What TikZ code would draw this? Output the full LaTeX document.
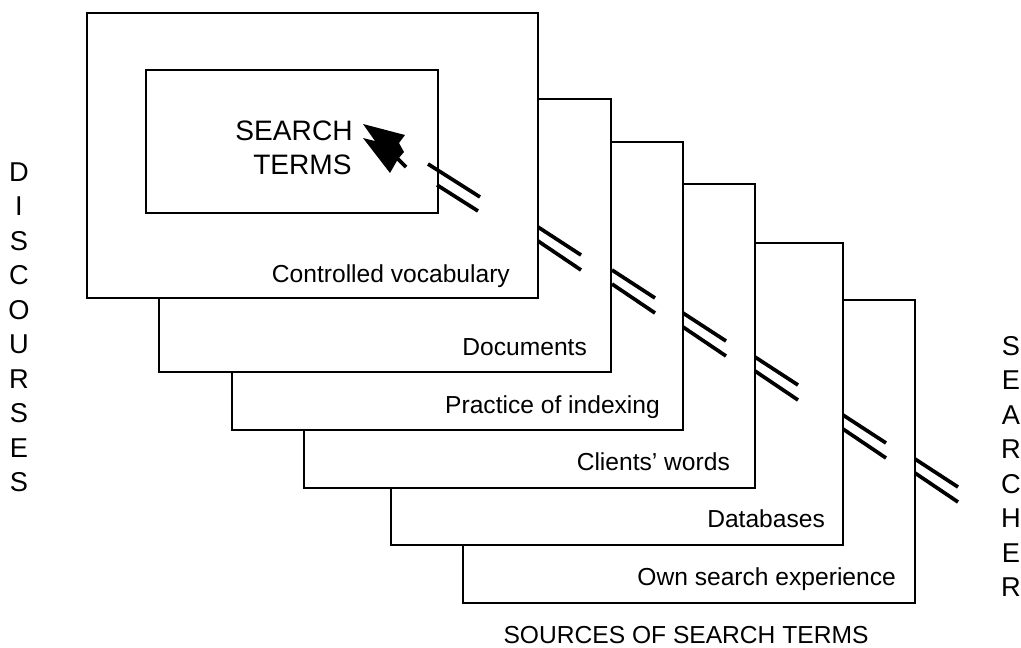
\documentclass[tikz,border=0pt]{standalone}
\usepackage{fontspec}
\setmainfont{Liberation Sans}
\usetikzlibrary{positioning}

\begin{document}
\begin{tikzpicture}[x=0.02cm,y=-0.02cm,
	card/.style={draw,fill=white,line width=1.3pt,anchor=north west,inner sep=0pt},
	lbl/.style={anchor=base east,inner sep=0pt,font=\fontsize{14}{17}\selectfont},
	brk/.style={line width=2.1pt},
	side/.style={inner sep=0pt,font=\fontsize{15.5}{18}\selectfont}]

	\useasboundingbox (0,0) rectangle (1021,647);

	% cards, back to front
	\node[card,minimum width=9.04cm,minimum height=6.06cm] (card6) at (462,299) {};
	\node[card,minimum width=9.04cm,minimum height=6.04cm] (card5) at (390,242) {};
	\node[card,minimum width=9.02cm,minimum height=6.08cm] (card4) at (303,183) {};
	\node[card,minimum width=9.02cm,minimum height=5.76cm] (card3) at (231,141) {};
	\node[card,minimum width=9.04cm,minimum height=5.46cm] (card2) at (158,98) {};
	\node[card,minimum width=9.02cm,minimum height=5.70cm] (card1) at (86,12) {};
	\node[card,minimum width=5.84cm,minimum height=2.86cm] (inner) at (145,69) {};

	\node[lbl] (lab1) at ([shift={(-29,-17)}]card1.south east) {Controlled vocabulary};
	\node[lbl] (lab2) at ([shift={(-25,-18)}]card2.south east) {Documents};
	\node[lbl] (lab3) at ([shift={(-24,-18)}]card3.south east) {Practice of indexing};
	\node[lbl] (lab4) at ([shift={(-26,-19)}]card4.south east) {Clients' words};
	\node[lbl] (lab5) at ([shift={(-19,-19)}]card5.south east) {Databases};
	\node[lbl] (lab6) at ([shift={(-20,-19)}]card6.south east) {Own search experience};

	% search terms and the arrow
	\node[lbl,font=\fontsize{16}{19}\selectfont] (srch) at (353,140) {SEARCH};
	\node[lbl,font=\fontsize{16}{19}\selectfont] (trms) at (352,174) {TERMS};
	\fill (363,124) -- (405,135) -- (399,143) -- (404,152) -- (398,159)
		-- (390,173) -- (363,138) -- (375,141) -- cycle;
	\draw[brk] (397,158) -- (406,167);

	% broken shaft
	\draw[brk] (428,164) -- (480,197) (437,185) -- (478,211);
	\foreach \x/\y in {538/227, 612/270, 683/313, 755/357, 843/415, 915/459}
		\draw[brk] (\x,\y) -- ++(43,28) (\x,\y+14) -- ++(43,29);

	% side texts
	\foreach \c [count=\i] in {D,I,S,C,O,U,R,S,E,S}
		\node[side] (dis\i) at (19,{172+34.5*(\i-1)}) {\c};
	\foreach \c [count=\i] in {S,E,A,R,C,H,E,R}
		\node[side] (sea\i) at (1011,{346+34.5*(\i-1)}) {\c};
	\node[lbl,anchor=base] (src) at (686,643) {SOURCES OF SEARCH TERMS};

\end{tikzpicture}
\end{document}
